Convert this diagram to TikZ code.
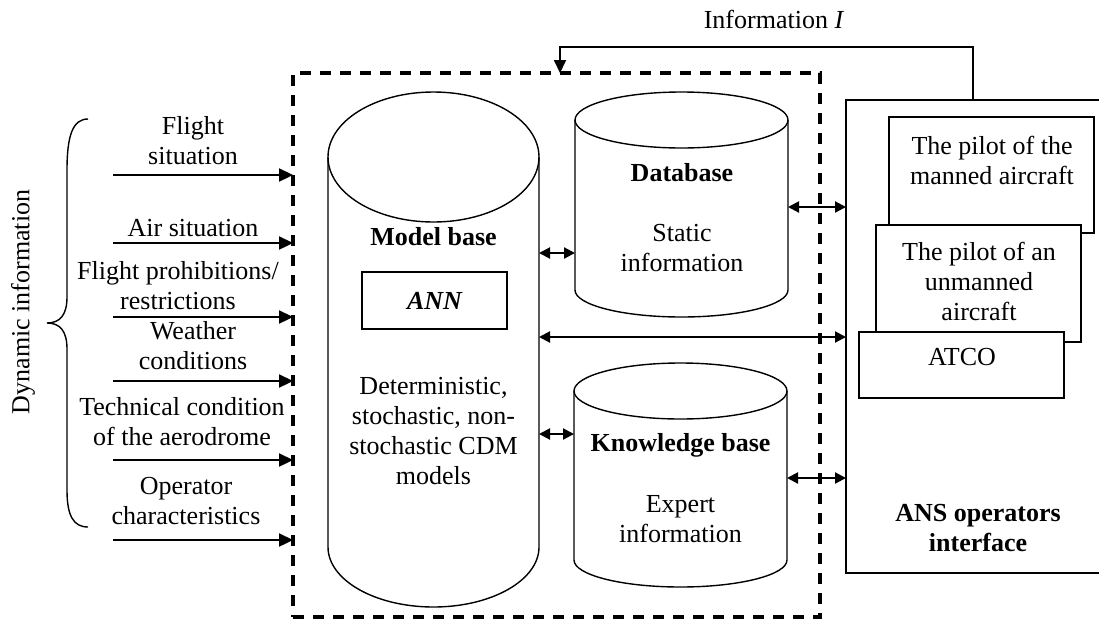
\documentclass[tikz,border=0pt]{standalone}
\usepackage{fontspec}
\setmainfont{Liberation Serif}
\usetikzlibrary{arrows.meta}

\tikzset{
  every node/.style={font=\fontsize{26}{30}\selectfont, inner sep=0pt, outer sep=0pt},
  thinline/.style={line width=1.4pt},
  boxnode/.style={draw, thinline, fill=white},
  dashbox/.style={line width=3.6pt, dash pattern=on 11pt off 9pt},
  arr/.style={line width=2.3pt, -{Triangle[length=14pt,width=13pt]}},
  dbl/.style={line width=2.1pt, {Triangle[length=11pt,width=11pt]}-{Triangle[length=11pt,width=11pt]}},
  txt/.style={align=center},
  hidden/.style={draw=none, minimum width=#1}
}

\begin{document}
\begin{tikzpicture}[x=1pt, y=-1pt]
\useasboundingbox (0,0) rectangle (1099,619);

% ---------- cylinder bodies (invisible anchors) ----------
\node[hidden=211pt, minimum height=390pt] (mb) at (433.5,352) {};
\node[hidden=213pt, minimum height=170pt] (db) at (681.5,205) {};
\node[hidden=213pt, minimum height=169pt] (kb) at (680.5,475.5) {};

% Model base cylinder
\draw[thinline] (mb.north west) -- (mb.south west)
  arc[start angle=180, end angle=360, x radius=105.5pt, y radius=60pt] -- (mb.north east);
\draw[thinline] (mb.north) ellipse[x radius=105.5pt, y radius=65pt];

% Database cylinder
\draw[thinline] (db.north west) -- (db.south west)
  arc[start angle=180, end angle=360, x radius=106.5pt, y radius=27pt] -- (db.north east);
\draw[thinline] (db.north) ellipse[x radius=106.5pt, y radius=28pt];

% Knowledge base cylinder
\draw[thinline] (kb.north west) -- (kb.south west)
  arc[start angle=180, end angle=360, x radius=106.5pt, y radius=27pt] -- (kb.north east);
\draw[thinline] (kb.north) ellipse[x radius=106.5pt, y radius=28pt];

% cylinder texts
\node (mbt) at (433.5,237) {\bfseries Model base};
\node[boxnode, minimum width=145pt, minimum height=57pt] (ann) at (434.5,300.5) {\bfseries\itshape ANN};
\node[txt] (mbd) at (433.5,431) {Deterministic,\\stochastic, non-\\stochastic CDM\\models};
\node (dbt) at (682,173) {\bfseries Database};
\node[txt] (dbd) at (682,248) {Static\\information};
\node (kbt) at (680.5,445) {\bfseries Knowledge base};
\node[txt] (kbd) at (680.5,519) {Expert\\information};

% ---------- ANS operators interface ----------
\node[draw=none, minimum width=253pt, minimum height=473pt] (ans) at (972.5,336.5) {};
\draw[thinline] (ans.north east) -- (ans.north west) -- (ans.south west) -- (ans.south east);
\node[boxnode, minimum width=205pt, minimum height=116pt] (pm) at (991.5,175) {};
\node[txt] at (992,160) {The pilot of the\\manned aircraft};
\node[boxnode, minimum width=205pt, minimum height=117pt] (pu) at (978.5,283.5) {};
\node[txt] at (979,281) {The pilot of an\\unmanned\\aircraft};
\node[boxnode, minimum width=205pt, minimum height=66pt] (atco) at (961.5,365) {};
\node at (962,357) {ATCO};
\node[txt] (anst) at (978,528) {\bfseries ANS operators\\\bfseries interface};

% ---------- dashed system boundary ----------
\node[draw, dashbox, minimum width=527pt, minimum height=544pt] (dbox) at (556.5,345) {};

% ---------- exchanges between the blocks ----------
\draw[dbl] (mb.east |- 0,253) -- (db.west |- 0,253);
\draw[dbl] (mb.east |- 0,434) -- (kb.west |- 0,434);
\draw[dbl] (mb.east |- 0,337) -- (ans.west |- 0,337);
\draw[dbl] (db.east |- 0,207) -- (ans.west |- 0,207);
\draw[dbl] (kb.east |- 0,478) -- (ans.west |- 0,478);

% feedback information
\draw[line width=1.8pt, -{Triangle[length=13pt,width=12pt]}] (ans.north -| 973,0) -- (973,47) -| (dbox.north -| 560,0);
\node (info) at (774,19) {Information \textit{I}};

% ---------- dynamic inputs ----------
\coordinate (in1) at (113,175);
\coordinate (in2) at (113,243);
\coordinate (in3) at (113,317);
\coordinate (in4) at (113,381);
\coordinate (in5) at (113,460);
\coordinate (in6) at (113,540);
\foreach \i in {1,...,6} {\draw[arr] (in\i) -- (in\i -| dbox.west);}

\node[txt] (l1) at (193,141) {Flight\\situation};
\node[txt] (l2) at (193,228) {Air situation};
\node[txt] (l3) at (178,286) {Flight prohibitions/\\restrictions};
\node[txt] (l4) at (193,346) {Weather\\conditions};
\node[txt] (l5) at (182,422) {Technical condition\\of the aerodrome};
\node[txt] (l6) at (186,501) {Operator\\characteristics};

% brace and its label
\draw[thinline] (88,119) .. controls (73,119) and (67,135) .. (67,170)
  -- (67,297) .. controls (67,315) and (60,323) .. (47,323)
  .. controls (60,323) and (67,331) .. (67,349)
  -- (67,490) .. controls (67,515) and (73,527) .. (88,527);
\node[rotate=90] (dyn) at (23,302) {Dynamic information};
\end{tikzpicture}
\end{document}
